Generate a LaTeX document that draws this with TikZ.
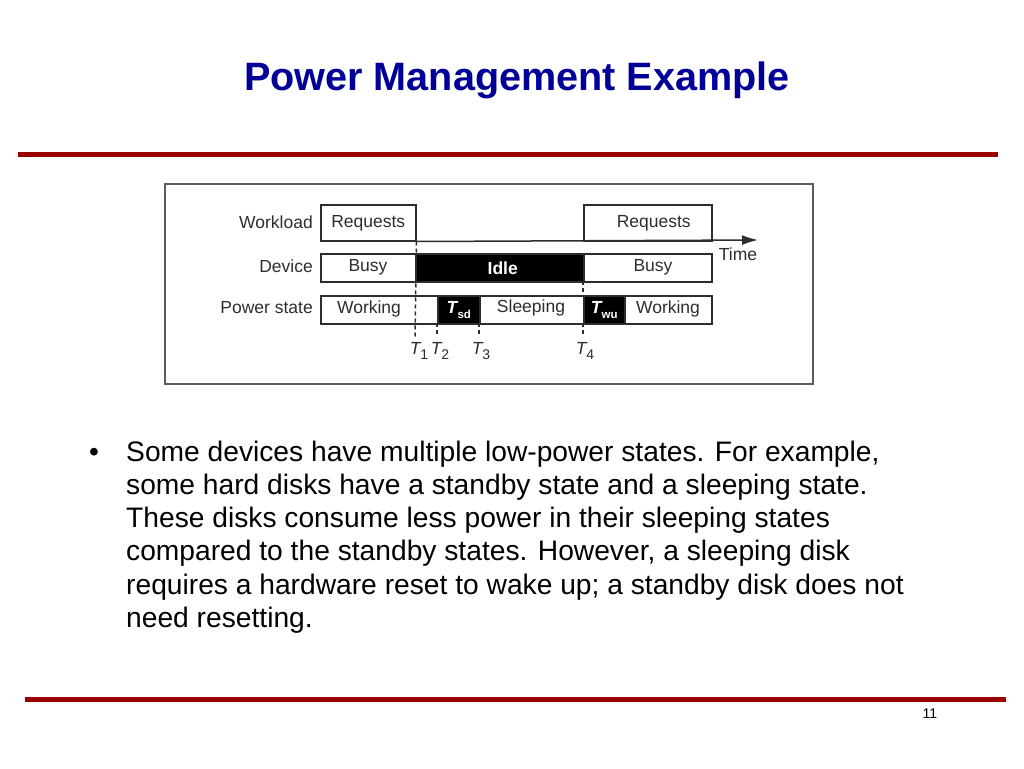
\documentclass[tikz,border=0pt]{standalone}
\usepackage{fontspec}
\setmainfont{Liberation Sans}
\usetikzlibrary{arrows.meta}
\definecolor{titleblue}{RGB}{0,0,153}
\definecolor{rulered}{RGB}{153,0,0}
\definecolor{dgray}{RGB}{45,45,45}
\definecolor{framegray}{RGB}{90,90,90}
\newcommand\Tlab[1]{\textit{T}\kern-1pt\raisebox{-0.3em}{\fontsize{14}{14}\selectfont #1}}
\newcommand\Tbox[1]{\textbf{\textit{T}}\kern-1pt\raisebox{-0.3em}{\fontsize{11.5}{11.5}\selectfont\bfseries #1}}
\begin{document}
\begin{tikzpicture}[x=1pt,y=-1pt,
  lbl/.style={font=\fontsize{17.5}{20}\selectfont, text=dgray, inner sep=0pt},
  cell/.style={draw=dgray, line width=1.5pt, inner sep=0pt, anchor=north west},
  darkcell/.style={cell, fill=black},
  wlbl/.style={lbl, text=white, font=\fontsize{17.5}{20}\selectfont\bfseries},
  tick/.style={draw=dgray, line width=1.5pt, dash pattern=on 4pt off 3pt},
  redrule/.style={draw=rulered, line width=5pt},
  bodytext/.style={font=\fontsize{28.2}{33.2}\selectfont, anchor=base west, inner sep=0pt}]
\useasboundingbox (0,0) rectangle (1024,768);

% title and rules
\node[font=\fontsize{39.6}{44}\selectfont\bfseries, text=titleblue, anchor=base, inner sep=0pt] (title) at (517,90) {Power Management Example};
\coordinate (r1a) at (18,154); \coordinate (r1b) at (998,154);
\draw[redrule] (r1a) -- (r1b);
\coordinate (r2a) at (25,699); \coordinate (r2b) at (1006,699);
\draw[redrule] (r2a) -- (r2b);
\node[font=\fontsize{14}{16}\selectfont, anchor=base, inner sep=0pt] (pagenum) at (930,718) {11};

% frame
\node[draw=framegray, line width=1.5pt, minimum width=648pt, minimum height=200pt, anchor=north west, inner sep=0pt] (frame) at (164,183) {};

% row labels
\node[lbl, anchor=east] (lwork) at (313,222) {Workload};
\node[lbl, anchor=east] (ldev) at (313,266) {Device};
\node[lbl, anchor=east] (lpow) at (313,308) {Power state};

% workload
\node[cell, minimum width=95pt, minimum height=36pt] (rq1) at (320,204) {};
\node[lbl] at ([yshift=-1pt]rq1.center) {Requests};
\node[cell, minimum width=128pt, minimum height=36pt] (rq2) at (583,204) {};
\node[lbl] at ([xshift=6pt,yshift=-1pt]rq2.center) {Requests};
\coordinate (tend) at (758,240);
\draw[draw=dgray, line width=1.5pt, -{Latex[length=16pt,width=10pt]}] (rq1.south east) -- (tend);
\node[lbl] (time) at (738,254) {Time};

% device
\node[cell, minimum width=391pt, minimum height=28pt] (dev) at (320,253) {};
\node[darkcell, minimum width=168pt, minimum height=28pt] (idle) at (415,253) {};
\node[wlbl] at ([xshift=3pt]idle.center) {Idle};
\node[lbl] (busy1) at (368,267) {Busy};
\node[lbl] (busy2) at (653,267) {Busy};

% power state
\node[cell, minimum width=391pt, minimum height=28pt] (pow) at (320,295) {};
\node[darkcell, minimum width=42pt, minimum height=28pt] (tsd) at (437,295) {};
\node[lbl, text=white] at (tsd.center) {\Tbox{sd}};
\node[darkcell, minimum width=41pt, minimum height=28pt] (twu) at (583,295) {};
\node[lbl, text=white] at (twu.center) {\Tbox{wu}};
\node[lbl] (work1) at (369,309) {Working};
\node[lbl] (sleep) at (531,308) {Sleeping};
\node[lbl] (work2) at (668,309) {Working};

% time marks
\coordinate (m1) at (415,337);
\coordinate (m2a) at (437,323); \coordinate (m2) at (437,337);
\coordinate (m3a) at (479,323); \coordinate (m3) at (479,337);
\coordinate (m4a) at (583,281); \coordinate (m4b) at (583,295);
\coordinate (m4c) at (583,323); \coordinate (m4) at (583,337);
\draw[tick] (rq1.south east) -- (m1);
\draw[tick] (m2a) -- (m2);
\draw[tick] (m3a) -- (m3);
\draw[tick] (m4a) -- (m4b);
\draw[tick] (m4c) -- (m4);
\node[lbl] (t1) at (419,351) {\Tlab{1}};
\node[lbl] (t2) at (440,351) {\Tlab{2}};
\node[lbl] (t3) at (481,351) {\Tlab{3}};
\node[lbl] (t4) at (585,351) {\Tlab{4}};

% bullet text
\node[font=\fontsize{28.2}{33.2}\selectfont, anchor=base, inner sep=0pt] (bul) at (94,461) {•};
\node[bodytext] (body1) at (126,461) {Some devices have multiple low-power states. For example,};
\node[bodytext] (body2) at (126,494) {some hard disks have a standby state and a sleeping state.};
\node[bodytext] (body3) at (126,527) {These disks consume less power in their sleeping states};
\node[bodytext] (body4) at (126,560) {compared to the standby states. However, a sleeping disk};
\node[bodytext] (body5) at (126,594) {requires a hardware reset to wake up; a standby disk does not};
\node[bodytext] (body6) at (126,627) {need resetting.};
\end{tikzpicture}
\end{document}
